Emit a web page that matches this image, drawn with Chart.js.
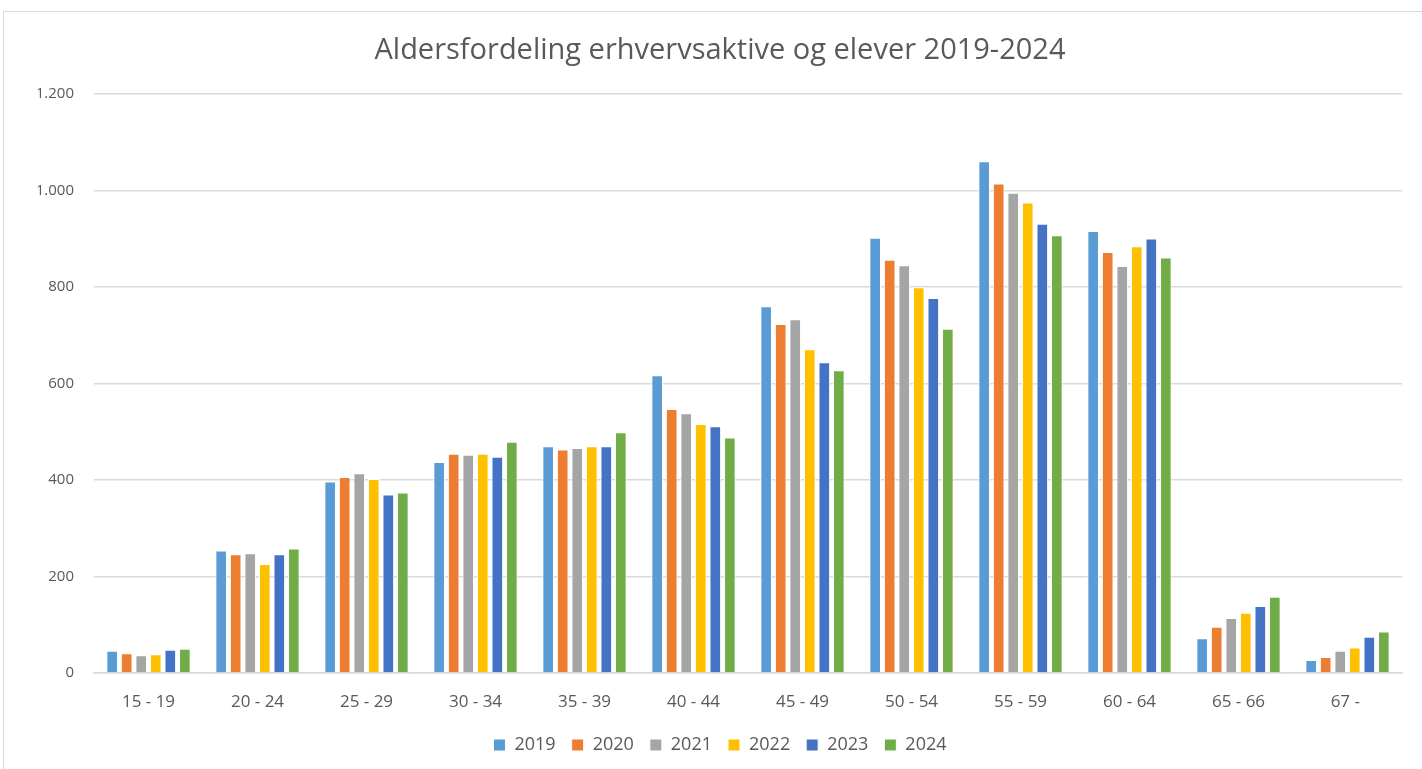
<!DOCTYPE html>
<html>
<head>
<meta charset="utf-8">
<script src="https://cdn.jsdelivr.net/npm/chart.js@4"></script>
<style>
  html, body { margin: 0; padding: 0; background: #fff; }
  #wrap { position: absolute; left: 3px; top: 11px; width: 1440px; height: 780px; border: 1px solid #d9d9d9; }
  #box { position: absolute; left: 20px; top: 0; width: 1402px; height: 769px; }
</style>
</head>
<body>
<div id="wrap"></div>
<div id="box"><canvas id="alderChart"></canvas></div>
<script>
// Age groups and yearly counts
const ageGroups = ['15 - 19', '20 - 24', '25 - 29', '30 - 34', '35 - 39', '40 - 44', '45 - 49', '50 - 54', '55 - 59', '60 - 64', '65 - 66', '67 - '];
const years = ['2019', '2020', '2021', '2022', '2023', '2024'];
const v2019 = [46, 254, 397, 437, 470, 617, 760, 902, 1060, 916, 72, 27];
const v2020 = [41, 246, 406, 454, 463, 547, 723, 856, 1014, 872, 96, 33];
const v2021 = [37, 248, 414, 452, 466, 538, 733, 845, 995, 843, 114, 46];
const v2022 = [39, 226, 402, 454, 470, 516, 671, 799, 975, 884, 125, 53];
const v2023 = [48, 246, 370, 448, 470, 511, 644, 777, 931, 900, 139, 75];
const v2024 = [50, 258, 374, 479, 499, 488, 627, 713, 907, 861, 158, 86];
const yearColors = ['#5B9BD5', '#ED7D31', '#A5A5A5', '#FFC000', '#4472C4', '#70AD47'];

const allValues = [v2019, v2020, v2021, v2022, v2023, v2024];
const fmt = n => String(n).replace(/\B(?=(\d{3})+(?!\d))/g, '.');

const ctx = document.getElementById('alderChart').getContext('2d');
new Chart(ctx, {
    type: 'bar',
    data: {
        labels: ageGroups,
        datasets: years.map((y, i) => ({
            label: y,
            data: allValues[i],
            backgroundColor: yearColors[i],
            borderColor: '#ffffff',
            borderWidth: 1,
            categoryPercentage: 0.8,
            barPercentage: 0.8
        }))
    },
    options: {
        responsive: true,
        maintainAspectRatio: false,
        animation: false,
        // canvas starts 20px in, so title and legend centre like the original
        layout: { padding: { left: 18, right: 20, top: 0, bottom: 5 } },
        plugins: {
            title: {
                display: true,
                text: 'Aldersfordeling erhvervsaktive og elever 2019-2024',
                color: '#595959',
                font: { family: 'Open Sans', size: 29, weight: 'normal' },
                padding: { top: 33, bottom: 26 }
            },
            legend: {
                position: 'bottom',
                labels: {
                    color: '#595959',
                    font: { family: 'Open Sans', size: 18 },
                    boxWidth: 12,
                    boxHeight: 12,
                    padding: 16
                }
            },
            tooltip: { enabled: false }
        },
        scales: {
            x: {
                grid: { display: false, drawTicks: false },
                border: { color: '#d9d9d9', width: 1.5 },
                ticks: { color: '#595959', font: { family: 'Open Sans', size: 17 }, padding: 19 },
                afterFit: s => { s.height = 47; }
            },
            y: {
                min: 0,
                max: 1200,
                grid: { color: '#d9d9d9', lineWidth: 1.5, drawTicks: false },
                border: { display: false },
                ticks: {
                    stepSize: 200,
                    color: '#595959',
                    font: { family: 'Open Sans', size: 15 },
                    padding: 20,
                    callback: v => fmt(v)
                },
                afterFit: s => { s.width = 56; }
            }
        }
    }
});
</script>
</body>
</html>
